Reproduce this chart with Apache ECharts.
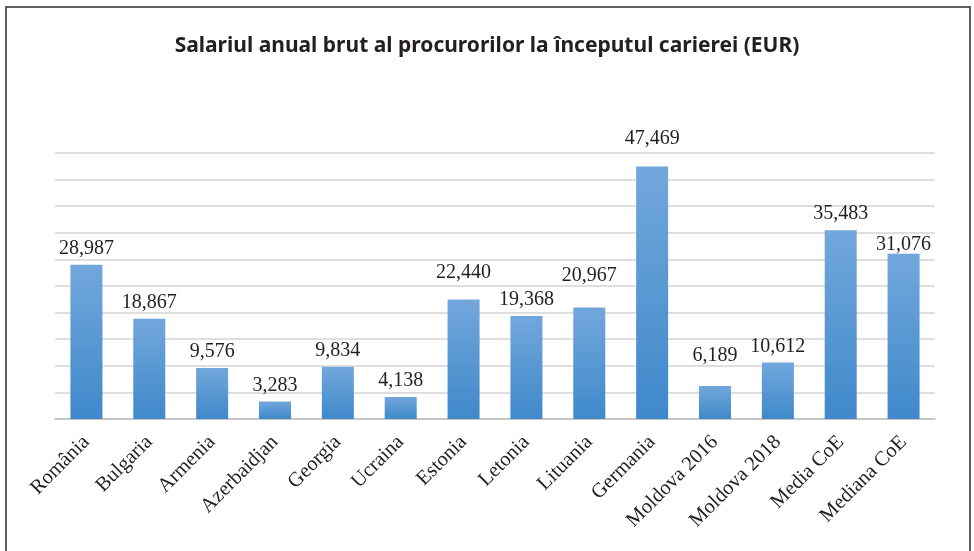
<!DOCTYPE html>
<html>
<head>
<meta charset="utf-8">
<script src="https://cdn.jsdelivr.net/npm/echarts@6/dist/echarts.min.js"></script>
<style>
	html, body { margin: 0; padding: 0; background: #fff; }
	#chart { width: 974px; height: 551px; }
</style>
</head>
<body>
<div id="chart"></div>
<script>
	var categories = ['România', 'Bulgaria', 'Armenia', 'Azerbaidjan', 'Georgia', 'Ucraina', 'Estonia',
		'Letonia', 'Lituania', 'Germania', 'Moldova 2016', 'Moldova 2018', 'Media CoE', 'Mediana CoE'];
	var salaries = [28987, 18867, 9576, 3283, 9834, 4138, 22440, 19368, 20967, 47469, 6189, 10612, 35483, 31076];
	var axisMax = 50000;
	var axisStep = 5000;

	function fmt(v) {
		return String(v).replace(/\B(?=(\d{3})+(?!\d))/g, ',');
	}

	// labels that sit higher / lower than the default in the original layout
	var labelLift = {
		'Estonia': 11,
		'Lituania': 16,
		'Germania': 12,
		'Moldova 2016': 14,
		'Mediana CoE': -7
	};

	var barData = salaries.map(function(v, i) {
		return {
			value: v,
			label: { distance: 6 + (labelLift[categories[i]] || 0) }
		};
	});

	var chart = echarts.init(document.getElementById('chart'));
	var option = {
		animation: false,
		backgroundColor: '#fff',
		title: {
			text: 'Salariul anual brut al procurorilor la începutul carierei (EUR)',
			left: 'center',
			top: 31,
			textStyle: {
				fontFamily: 'Noto Sans',
				fontWeight: 'bold',
				fontSize: 21,
				color: '#231f20'
			}
		},
		graphic: [{
			type: 'rect',
			shape: { x: 6, y: 7, width: 964, height: 560 },
			style: { fill: 'none', stroke: '#2b2b2b', lineWidth: 1.5 },
			silent: true
		}],
		grid: {
			left: 55,
			right: 39,
			top: 153,
			bottom: 132
		},
		xAxis: {
			type: 'category',
			data: categories,
			axisTick: { show: false },
			axisLine: { lineStyle: { color: '#bfbfbf', width: 1.5 } },
			axisLabel: {
				rotate: 45,
				margin: 20,
				interval: 0,
				fontFamily: 'Liberation Serif',
				fontSize: 20.5,
				color: '#231f20'
			}
		},
		yAxis: {
			type: 'value',
			min: 0,
			max: axisMax,
			interval: axisStep,
			axisLabel: { show: false },
			axisLine: { show: false },
			axisTick: { show: false },
			splitLine: { lineStyle: { color: '#d4d4d4', width: 1.5 } }
		},
		series: [{
			name: 'Salariu',
			type: 'bar',
			data: barData,
			barWidth: 32,
			itemStyle: {
				color: new echarts.graphic.LinearGradient(0, 0, 0, 1, [
					{ offset: 0, color: '#72a7dc' },
					{ offset: 1, color: '#3f89ca' }
				])
			},
			label: {
				show: true,
				position: 'top',
				distance: 6,
				fontFamily: 'Liberation Serif',
				fontSize: 20,
				color: '#231f20',
				formatter: function(p) { return fmt(p.value); }
			}
		}]
	};
	chart.setOption(option);
</script>
</body>
</html>
